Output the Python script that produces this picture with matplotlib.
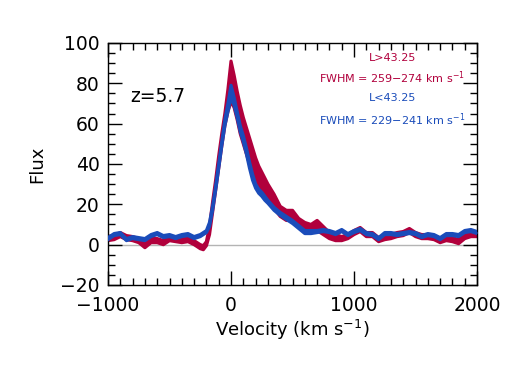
import matplotlib
matplotlib.use('Agg')
import matplotlib.pyplot as plt
from matplotlib.ticker import MultipleLocator

# velocity grid (km/s)
velocity = [-1000, -950, -900, -850, -800, -750, -700, -650, -600, -550, -500, -450,
            -400, -350, -300, -250, -225, -200, -175, -150, -125, -100, -75, -50, -25,
            0, 25, 50, 75, 100, 125, 150, 175, 200, 225, 250, 275, 300, 350, 400, 450,
            500, 550, 600, 650, 700, 750, 800, 850, 900, 950, 1000, 1050, 1100, 1150,
            1200, 1250, 1300, 1350, 1400, 1450, 1500, 1550, 1600, 1650, 1700, 1750,
            1800, 1850, 1900, 1950, 2000]

# L>43.25 stack, lower / upper envelope
red_lo = [2, 2.5, 4, 2.5, 2, 1, -1.5, 1, 1, 0, 2, 1.5,
          1, 1.5, 0, -2, -2.5, -0.5, 5, 16, 27, 38, 49, 59, 66,
          71, 68, 62, 55, 50, 45, 40, 35, 31, 28, 26, 24, 22, 18, 14, 12,
          12, 9, 7, 6, 7, 5, 3, 2, 2, 3, 5, 6.5, 4, 4,
          1.5, 2.5, 3, 4, 4.5, 6, 4, 3, 3, 2.5, 1, 2,
          1.5, 0.5, 3, 4, 4]
red_hi = [4, 4.5, 6, 4.5, 4, 3, 0.5, 3, 3, 2, 4, 3.5,
          3, 3.5, 2, 0, -0.5, 1.5, 9, 21, 32, 44, 55, 65, 77,
          91, 84, 76, 69, 63, 58, 53, 48, 43, 39, 36, 33, 30, 25, 19, 17,
          17, 13, 11, 10, 12, 9, 6, 5, 4, 5, 7, 8.5, 6, 6,
          3.5, 4.5, 5, 6, 6.5, 8, 6, 5, 5, 4.5, 3, 4,
          3.5, 2.5, 5, 6, 6]

# L<43.25 stack, lower / upper envelope
blue_lo = [2.5, 4.5, 5, 2, 3, 2.5, 2, 4, 5, 3.5, 4, 3,
           4, 4.5, 3, 4, 5, 6, 9, 17, 27, 38, 49, 59, 66,
           73, 69, 63, 56, 51, 45, 38, 32, 28, 25.5, 24, 22, 20.5, 17, 14.5, 12.5,
           10.5, 8, 5.5, 5.5, 6, 6.5, 6, 5, 6.5, 4.5, 6, 7, 5, 4.5,
           2.5, 5, 5, 4.5, 5, 5.5, 5, 3.5, 4.5, 4, 2.5, 4.5,
           4.5, 4, 6, 6.5, 5.5]
blue_hi = [3.5, 5.5, 6, 3, 4, 3.5, 3, 5, 6, 4.5, 5, 4,
           5, 5.5, 4, 5, 6, 7, 11, 19, 29, 40, 51, 62, 70,
           79, 73, 66, 59, 54, 48, 41, 35, 30, 27.5, 26, 24, 22, 18.5, 16, 14,
           12, 9.5, 7, 7, 7, 7.5, 7, 6, 7.5, 5.5, 7, 8, 6, 5.5,
           3.5, 6, 6, 5.5, 6, 6.5, 6, 4.5, 5.5, 5, 3.5, 5.5,
           5.5, 5, 7, 7.5, 6.5]

red = '#b1003c'
blue = '#1a4cba'

plt.rcParams['font.family'] = 'DejaVu Sans'

fig = plt.figure(figsize=(5.31, 3.80), dpi=100)
ax = fig.add_axes([0.2034, 0.25, 0.6950, 0.637])

ax.axhline(0, color='#b4b4b4', lw=1, zorder=1)

ax.fill_between(velocity, red_lo, red_hi, color=red, lw=0, zorder=2)
ax.plot(velocity, red_lo, color=red, lw=2.3, zorder=2)
ax.plot(velocity, red_hi, color=red, lw=2.3, zorder=2)

ax.fill_between(velocity, blue_lo, blue_hi, color=blue, lw=0, zorder=3)
ax.plot(velocity, blue_lo, color=blue, lw=2.3, zorder=3)
ax.plot(velocity, blue_hi, color=blue, lw=2.3, zorder=3)

ax.set_xlim(-1000, 2000)
ax.set_ylim(-20, 100)
ax.xaxis.set_major_locator(MultipleLocator(1000))
ax.xaxis.set_minor_locator(MultipleLocator(100))
ax.yaxis.set_major_locator(MultipleLocator(20))
ax.yaxis.set_minor_locator(MultipleLocator(5))
ax.tick_params(which='both', direction='in', top=True, right=True, width=1,
               labelsize=13.5)
ax.tick_params(axis='x', pad=8)
ax.tick_params(axis='y', pad=6)
ax.tick_params(which='major', length=10)
ax.tick_params(which='minor', length=5)
for s in ax.spines.values():
    s.set_linewidth(1)

ax.set_xlabel('Velocity (km s$^{-1}$)', fontsize=13, labelpad=2)
ax.set_ylabel('Flux', fontsize=13, labelpad=10)

fig.text(130 / 531, 1 - 97 / 380, 'z=5.7', fontsize=13.5, va='center')
ax.text(0.77, 0.937, 'L>43.25', transform=ax.transAxes, color=red, fontsize=8, ha='center', va='center')
ax.text(0.77, 0.855, 'FWHM = 259\u2212274 km s$^{-1}$', transform=ax.transAxes, color=red,
        fontsize=8, ha='center', va='center')
ax.text(0.77, 0.772, 'L<43.25', transform=ax.transAxes, color=blue, fontsize=8, ha='center', va='center')
ax.text(0.77, 0.681, 'FWHM = 229\u2212241 km s$^{-1}$', transform=ax.transAxes, color=blue,
        fontsize=8, ha='center', va='center')

fig.savefig('out.png', dpi=100)
